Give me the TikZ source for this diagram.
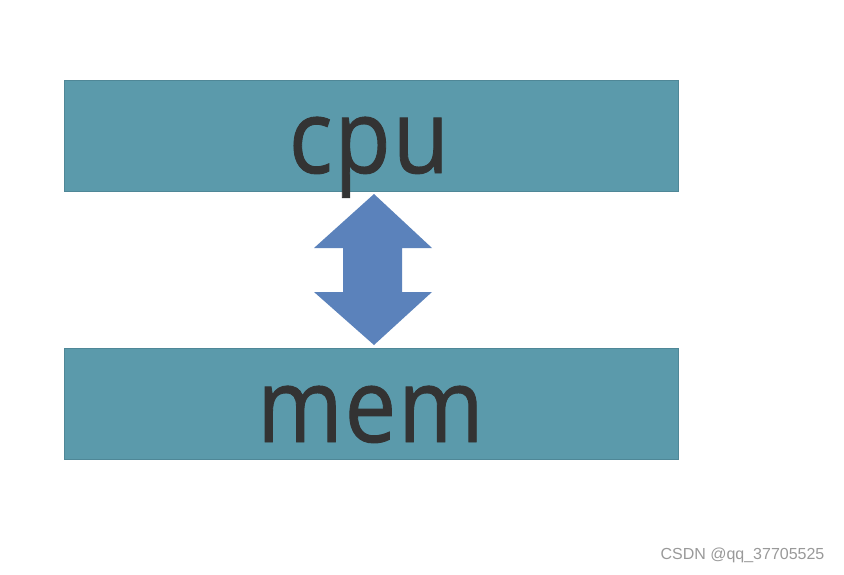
\documentclass[tikz,border=0pt]{standalone}
\usepackage{fontspec}
\setmainfont{Open Sans}
\newfontfamily\bigfont[FakeBold=0.9]{Open Sans}
\newfontfamily\wmfont{Liberation Sans}
\definecolor{boxfill}{HTML}{5B9AAB}
\definecolor{boxline}{HTML}{4F8797}
\definecolor{arrowfill}{HTML}{5B82BB}
\definecolor{txt}{HTML}{333333}
\newcommand{\gp}{\kern2pt}
\begin{document}
\begin{tikzpicture}[x=1pt,y=-1pt,
  bar/.style={draw=boxline,line width=0.8pt,fill=boxfill,minimum width=614pt,minimum height=111pt,inner sep=0pt,anchor=north west},
  bigtext/.style={text=txt,font=\bigfont\fontsize{103}{103}\selectfont}]
\useasboundingbox (0,0) rectangle (844,574);
\node[bar] (cpu) at (64,80) {};
\node[bar] (mem) at (64,348) {};
\node[bigtext,anchor=base] (cputxt) at (369,173) {\scalebox{0.895}[1]{c\gp p\gp u}};
\node[bigtext,anchor=base] (memtxt) at (370.5,442) {\scalebox{0.895}[1]{m\gp e\gp m}};
\fill[arrowfill] (374,194) -- (432,248) -- (402,248) -- (402,292) -- (432,292)
  -- (374,345) -- (314,292) -- (343,292) -- (343,248) -- (314,248) -- cycle;
\node[text=black!40,font=\wmfont\fontsize{16}{16}\selectfont,anchor=west] (wm) at (657,555) {CSDN @qq\_37705525};
\end{tikzpicture}
\end{document}
